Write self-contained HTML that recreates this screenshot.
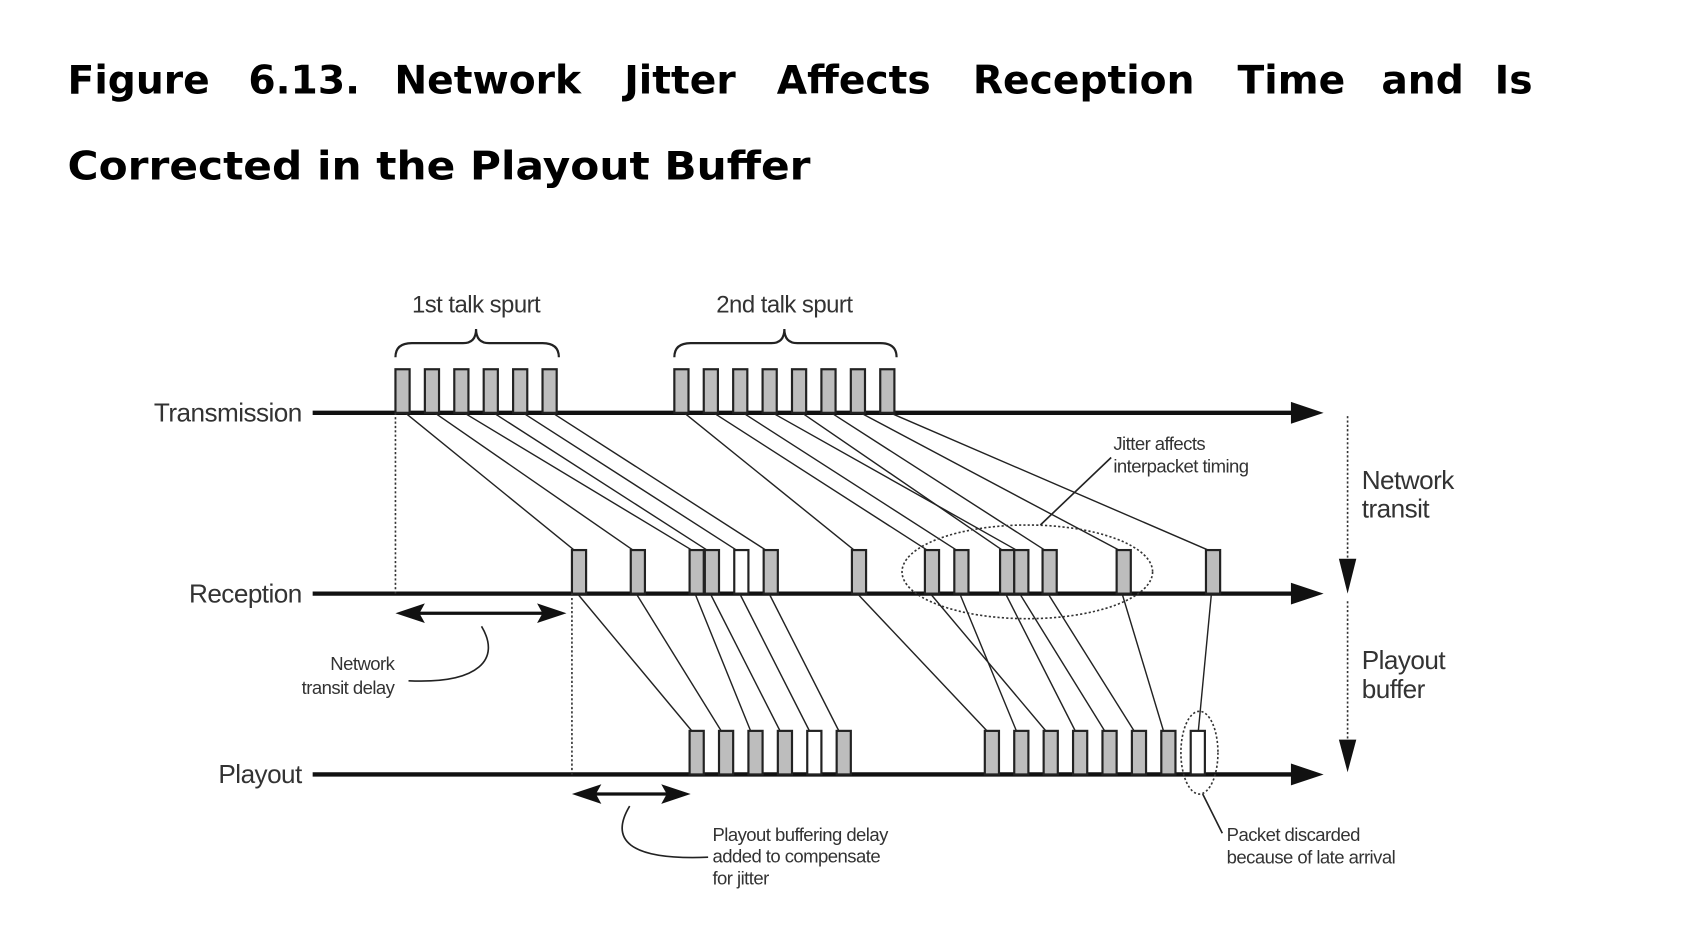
<!DOCTYPE html>
<html><head><meta charset="utf-8"><style>
html,body{margin:0;padding:0;background:#fff;width:1706px;height:940px;overflow:hidden}
svg{display:block}
.t{font-family:"DejaVu Sans",Verdana,sans-serif;font-weight:bold;font-size:36px;fill:#000}
.l{font-family:"Liberation Sans",sans-serif;fill:#333;letter-spacing:-0.5px}
</style></head><body>
<svg width="1706" height="940" viewBox="0 0 1566 863" preserveAspectRatio="none" xmlns="http://www.w3.org/2000/svg">
<g class="t">
<text x="62" y="86">Figure</text><text x="228" y="86">6.13.</text><text x="362" y="86">Network</text><text x="573" y="86">Jitter</text><text x="713" y="86">Affects</text><text x="893" y="86">Reception</text><text x="1136" y="86">Time</text><text x="1268" y="86">and</text><text x="1372" y="86">Is</text>
<text x="62" y="165" textLength="682" lengthAdjust="spacingAndGlyphs">Corrected in the Playout Buffer</text>
</g>
<g stroke="#111" stroke-width="4">
<line x1="287" y1="379" x2="1190" y2="379"/><line x1="287" y1="545" x2="1190" y2="545"/><line x1="287" y1="711" x2="1190" y2="711"/>
</g>
<g fill="#111">
<polygon points="1185,369 1215,379 1185,389"/><polygon points="1185,535 1215,545 1185,555"/><polygon points="1185,701 1215,711 1185,721"/>
</g>
<g class="l" font-size="24" text-anchor="end">
<text x="277" y="387">Transmission</text><text x="277" y="553">Reception</text><text x="277" y="719">Playout</text>
</g>
<g class="l" font-size="22" text-anchor="middle">
<text x="437" y="287">1st talk spurt</text><text x="720" y="287">2nd talk spurt</text>
</g>
<g fill="none" stroke="#222" stroke-width="2">
<path d="M363,328 Q363,315 378,315 L425,315 Q437,315 437,302 Q437,315 449,315 L498,315 Q513,315 513,328"/>
<path d="M619,328 Q619,315 634,315 L708,315 Q720,315 720,302 Q720,315 732,315 L808,315 Q823,315 823,328"/>
</g>
<g stroke="#222" stroke-width="1.3" fill="none">
<line x1="372" y1="379" x2="527" y2="505"/><line x1="399" y1="379" x2="581" y2="505"/><line x1="426" y1="379" x2="635" y2="505"/><line x1="453" y1="379" x2="649" y2="505"/><line x1="480" y1="379" x2="676" y2="505"/><line x1="507" y1="379" x2="703" y2="505"/>
<line x1="628" y1="379" x2="784" y2="505"/><line x1="655" y1="379" x2="851" y2="505"/><line x1="682" y1="379" x2="878" y2="505"/><line x1="709" y1="379" x2="933" y2="505"/><line x1="736" y1="379" x2="920" y2="505"/><line x1="763" y1="379" x2="959" y2="505"/><line x1="790" y1="379" x2="1027" y2="505"/><line x1="817" y1="379" x2="1109" y2="505"/>
<line x1="530" y1="545" x2="635" y2="671"/><line x1="584" y1="545" x2="662" y2="671"/><line x1="638" y1="545" x2="689" y2="671"/><line x1="652" y1="545" x2="716" y2="671"/><line x1="679" y1="545" x2="743" y2="671"/><line x1="706" y1="545" x2="770" y2="671"/>
<line x1="787" y1="545" x2="906" y2="671"/><line x1="854" y1="545" x2="960" y2="671"/><line x1="881" y1="545" x2="933" y2="671"/><line x1="923" y1="545" x2="987" y2="671"/><line x1="936" y1="545" x2="1014" y2="671"/><line x1="962" y1="545" x2="1041" y2="671"/><line x1="1030" y1="545" x2="1068" y2="671"/><line x1="1112" y1="545" x2="1100" y2="671"/>
</g>
<g stroke="#222" stroke-width="2" fill="#bdbdbd">
<rect x="363" y="339" width="13" height="40"/><rect x="390" y="339" width="13" height="40"/><rect x="417" y="339" width="13" height="40"/><rect x="444" y="339" width="13" height="40"/><rect x="471" y="339" width="13" height="40"/><rect x="498" y="339" width="13" height="40"/>
<rect x="619" y="339" width="13" height="40"/><rect x="646" y="339" width="13" height="40"/><rect x="673" y="339" width="13" height="40"/><rect x="700" y="339" width="13" height="40"/><rect x="727" y="339" width="13" height="40"/><rect x="754" y="339" width="13" height="40"/><rect x="781" y="339" width="13" height="40"/><rect x="808" y="339" width="13" height="40"/>
<rect x="525" y="505" width="13" height="40"/><rect x="579" y="505" width="13" height="40"/><rect x="633" y="505" width="13" height="40"/><rect x="647" y="505" width="13" height="40"/><rect x="674" y="505" width="13" height="40" fill="#fff"/><rect x="701" y="505" width="13" height="40"/><rect x="782" y="505" width="13" height="40"/><rect x="849" y="505" width="13" height="40"/><rect x="876" y="505" width="13" height="40"/><rect x="918" y="505" width="13" height="40"/><rect x="931" y="505" width="13" height="40"/><rect x="957" y="505" width="13" height="40"/><rect x="1025" y="505" width="13" height="40"/><rect x="1107" y="505" width="13" height="40"/>
<rect x="633" y="671" width="13" height="40"/><rect x="660" y="671" width="13" height="40"/><rect x="687" y="671" width="13" height="40"/><rect x="714" y="671" width="13" height="40"/><rect x="741" y="671" width="13" height="40" fill="#fff"/><rect x="768" y="671" width="13" height="40"/>
<rect x="904" y="671" width="13" height="40"/><rect x="931" y="671" width="13" height="40"/><rect x="958" y="671" width="13" height="40"/><rect x="985" y="671" width="13" height="40"/><rect x="1012" y="671" width="13" height="40"/><rect x="1039" y="671" width="13" height="40"/><rect x="1066" y="671" width="13" height="40"/><rect x="1093" y="671" width="13" height="40" fill="#fff"/>
</g>
<g stroke="#333" stroke-width="1.5" fill="none" stroke-dasharray="2,2">
<line x1="363" y1="379" x2="363" y2="545"/><line x1="525" y1="545" x2="525" y2="711"/>
<ellipse cx="943" cy="525" rx="115" ry="43"/><ellipse cx="1101" cy="691" rx="17" ry="38"/>
<line x1="1237" y1="382" x2="1237" y2="515"/><line x1="1237" y1="552" x2="1237" y2="680"/>
</g>
<g fill="#111"><polygon points="1229,513 1245,513 1237,545"/><polygon points="1229,679 1245,679 1237,709"/></g>
<g stroke="#111" stroke-width="3"><line x1="375" y1="563" x2="508" y2="563"/><line x1="537" y1="729" x2="622" y2="729"/></g>
<g fill="#111"><polygon points="363,563 390,554 385,563 390,572"/><polygon points="520,563 493,554 498,563 493,572"/><polygon points="525,729 552,720 547,729 552,738"/><polygon points="634,729 607,720 612,729 607,738"/></g>
<g stroke="#222" stroke-width="1.5" fill="none">
<path d="M442,575 C460,605 440,628 375,625"/>
<path d="M578,740 C560,770 575,790 650,787"/>
<line x1="955" y1="482" x2="1020" y2="420"/>
<line x1="1104" y1="729" x2="1122" y2="765"/>
</g>
<g class="l" font-size="17">
<text x="362" y="615" text-anchor="end">Network</text><text x="362" y="637" text-anchor="end">transit delay</text>
<text x="654" y="772">Playout buffering delay</text><text x="654" y="792">added to compensate</text><text x="654" y="812">for jitter</text>
<text x="1022" y="413">Jitter affects</text><text x="1022" y="434">interpacket timing</text>
<text x="1126" y="772">Packet discarded</text><text x="1126" y="793">because of late arrival</text>
</g>
<g class="l" font-size="24">
<text x="1250" y="449">Network</text><text x="1250" y="475">transit</text>
<text x="1250" y="614">Playout</text><text x="1250" y="641">buffer</text>
</g>
</svg>
</body></html>
